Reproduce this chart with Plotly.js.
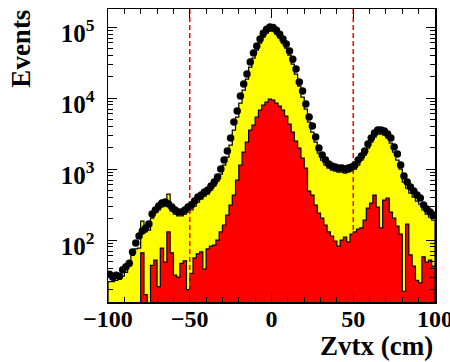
<!DOCTYPE html>
<html>
<head>
<meta charset="utf-8">
<script src="https://cdn.plot.ly/plotly-3.0.1.min.js"></script>
<style>
  html, body { margin: 0; padding: 0; background: #ffffff; }
  #chart { width: 450px; height: 362px; }
</style>
</head>
<body>
<div id="chart"></div>
<script>
// Binning of the vertex-z histograms: 100 bins of 2 cm from -100 to 100 cm
const binLow = -100;
const binWidth = 2;

// Measured events per bin (black points)
const dataCounts = [
  33, 30, 32, 31, 38, 42, 47, 68, 91, 114,
  134, 148, 168, 232, 265, 301, 332, 343, 321, 292,
  265, 248, 248, 265, 292, 311, 354, 403, 430, 475,
  506, 576, 656, 772, 1000, 1339, 1794, 2737, 4594, 6563,
  10670, 15740, 21780, 32140, 43040, 53990, 67760, 82250, 93690, 100000,
  98400, 90700, 79600, 67760, 57700, 45900, 35400, 25600, 16800, 12550,
  8230, 5400, 4035, 2825, 1977, 1574, 1339, 1175, 1102, 1067,
  1033, 1033, 1000, 1033, 1067, 1138, 1339, 1523, 1794, 2250,
  2737, 3214, 3540, 3540, 3428, 3112, 2737, 2042, 1626, 1138,
  796, 656, 557, 490, 430, 391, 311, 273, 248, 225
];

// Total simulated events per bin (yellow)
const totalSim = [
  26, 26, 27, 28, 31, 35, 43, 61, 75, 77,
  185, 130, 138, 204, 248, 265, 292, 301, 444, 256,
  232, 218, 218, 232, 248, 265, 301, 343, 378, 417,
  444, 506, 576, 678, 850, 1138, 1476, 2178, 3540, 5400,
  8500, 12970, 18510, 27330, 36600, 47450, 59500, 72300, 82300, 87900,
  87900, 79700, 70000, 59500, 50600, 40300, 30100, 21800, 14760, 10330,
  7000, 4590, 3320, 2400, 1680, 1339, 1138, 1033, 968, 937,
  907, 907, 878, 907, 937, 1000, 1138, 1339, 1574, 1977,
  2400, 2822, 3112, 3112, 3012, 2733, 2323, 1735, 1339, 1000,
  656, 540, 459, 403, 354, 321, 265, 232, 211, 191
];

// Simulated component drawn in red
const redSim = [
  0, 0, 0, 0, 0, 0, 0, 0, 0, 0,
  66, 17, 0, 44, 52, 22, 77, 49, 130, 66,
  32, 30, 47, 51, 20, 34, 56, 64, 68, 39,
  75, 82, 85, 100, 130, 163, 225, 311, 430, 700,
  1138, 1735, 2400, 3540, 4170, 5400, 6770, 7960, 8790, 9690,
  9380, 8500, 7710, 6770, 5580, 4300, 3320, 2480, 1977, 1430,
  1033, 490, 430, 311, 240, 204, 163, 130, 114, 97,
  82, 100, 110, 94, 121, 130, 143, 148, 191, 282,
  332, 430, 292, 148, 366, 391, 248, 204, 157, 121,
  19, 168, 62, 43, 27, 25, 58, 49, 52, 43
];

// Vertex cut positions (cm)
const cutPositions = [-50, 50];

// Axis ranges and labels
const xRange = [-100, 100];
const yRange = [13.4, 180000];
const xTickVals = [-100, -50, 0, 50, 100];
const xTitle = 'Zvtx (cm)';
const yTitle = 'Events';

const nBins = dataCounts.length;
const centers = dataCounts.map((_, i) => binLow + binWidth * (i + 0.5));
const floorVal = 1; // below the visible range, closes the filled outlines

// Closed step outline of a histogram, filled with 'toself'
function stepOutline(vals) {
  const xs = [binLow], ys = [floorVal];
  vals.forEach((v, i) => {
    const x0 = binLow + i * binWidth;
    const y = v > 0 ? v : floorVal;
    xs.push(x0, x0 + binWidth);
    ys.push(y, y);
  });
  xs.push(binLow + vals.length * binWidth);
  ys.push(floorVal);
  return { x: xs, y: ys };
}

const yellowStep = stepOutline(totalSim);
const redStep = stepOutline(redSim);

const traces = [
  {
    type: 'scatter', mode: 'lines',
    x: yellowStep.x, y: yellowStep.y,
    fill: 'toself', fillcolor: '#ffff00',
    line: { color: '#000000', width: 1.2 },
    hoverinfo: 'skip', showlegend: false
  },
  {
    type: 'scatter', mode: 'lines',
    x: redStep.x, y: redStep.y,
    fill: 'toself', fillcolor: '#ff0000',
    line: { color: '#000000', width: 1.2 },
    hoverinfo: 'skip', showlegend: false
  }
];

cutPositions.forEach(c => {
  traces.push({
    type: 'scatter', mode: 'lines',
    x: [c, c], y: yRange,
    line: { color: '#ff0000', width: 1.5, dash: '5px,3px' },
    hoverinfo: 'skip', showlegend: false
  });
});

traces.push({
  type: 'scatter', mode: 'markers',
  x: centers, y: dataCounts,
  marker: { color: '#000000', size: 7.5, line: { width: 0 } },
  showlegend: false
});

const serif = 'Liberation Serif, Times New Roman, serif';

const layout = {
  width: 450, height: 362,
  margin: { l: 107.5, r: 15, t: 9, b: 60 },
  paper_bgcolor: '#ffffff', plot_bgcolor: '#ffffff',
  showlegend: false,
  xaxis: {
    range: xRange,
    tickmode: 'array', tickvals: xTickVals,
    ticks: 'inside', ticklen: 9, tickwidth: 1, tickcolor: '#000000',
    minor: { dtick: 10, tick0: 0, ticks: 'inside', ticklen: 5, tickwidth: 1, tickcolor: '#000000' },
    showline: true, linecolor: '#000000', linewidth: 1.5, mirror: 'ticks',
    showgrid: false, zeroline: false,
    tickfont: { family: serif, size: 24, color: '#000000', weight: 'bold' },
    ticklabeloverflow: 'allow',
    ticklabelstandoff: -5
  },
  yaxis: {
    type: 'log',
    range: yRange.map(Math.log10),
    dtick: 1, exponentformat: 'power', showexponent: 'all',
    ticks: 'inside', ticklen: 9, tickwidth: 1, tickcolor: '#000000',
    minor: { dtick: 'D1', ticks: 'inside', ticklen: 5, tickwidth: 1, tickcolor: '#000000' },
    showline: true, linecolor: '#000000', linewidth: 1.5, mirror: 'ticks',
    showgrid: false, zeroline: false,
    tickfont: { family: serif, size: 20, color: '#000000', weight: 'bold' },
    ticklabeloverflow: 'allow',
    ticklabelstandoff: 8,
    ticklabelshift: 6
  },
  annotations: [
    {
      text: yTitle, textangle: -90,
      xref: 'paper', yref: 'paper',
      x: (20 - 107.5) / 327.5, y: (302 - 49) / 293,
      xanchor: 'center', yanchor: 'middle', showarrow: false,
      font: { family: serif, size: 27, color: '#000000', weight: 'bold' }
    },
    {
      text: xTitle,
      xref: 'paper', yref: 'paper',
      x: 1, y: (302 - 346) / 293,
      xanchor: 'right', yanchor: 'middle', showarrow: false,
      font: { family: serif, size: 27, color: '#000000', weight: 'bold' }
    }
  ]
};

Plotly.newPlot('chart', traces, layout, { staticPlot: true, displayModeBar: false });
</script>
</body>
</html>
